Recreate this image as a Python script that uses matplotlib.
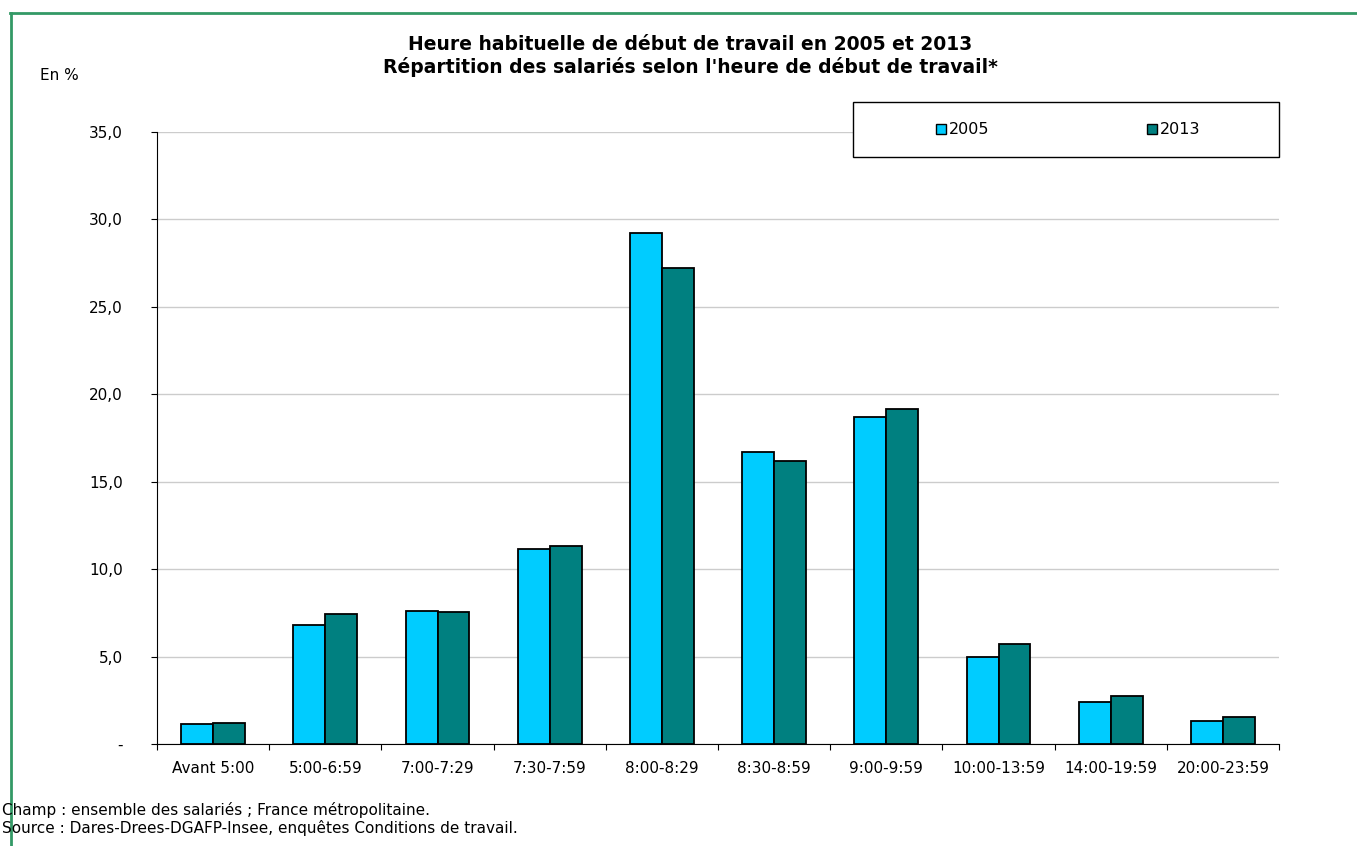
import matplotlib.pyplot as plt
import numpy as np
from matplotlib.lines import Line2D
from matplotlib.patches import Patch, Rectangle

categories = ['Avant 5:00', '5:00-6:59', '7:00-7:29', '7:30-7:59', '8:00-8:29',
              '8:30-8:59', '9:00-9:59', '10:00-13:59', '14:00-19:59', '20:00-23:59']
v2005 = [1.15, 6.8, 7.6, 11.15, 29.25, 16.7, 18.7, 5.0, 2.4, 1.3]
v2013 = [1.2, 7.45, 7.55, 11.35, 27.25, 16.2, 19.15, 5.7, 2.75, 1.55]
yticks = [0, 5, 10, 15, 20, 25, 30, 35]
ytick_labels = ['-', '5,0', '10,0', '15,0', '20,0', '25,0', '30,0', '35,0']

c2005 = '#00ccff'
c2013 = '#008080'

fig = plt.figure(figsize=(13.57, 8.46), dpi=100)
ax = fig.add_axes([157/1357, 1-744/846, (1279-157)/1357, (744-132)/846])

x = np.arange(len(categories))
w = 0.285
ax.bar(x - w/2, v2005, w, color=c2005, edgecolor='black', linewidth=1.3, zorder=3)
ax.bar(x + w/2, v2013, w, color=c2013, edgecolor='black', linewidth=1.3, zorder=3)

ax.set_xlim(-0.5, len(categories) - 0.5)
ax.set_ylim(0, 35)
ax.set_yticks(yticks)
ax.set_yticklabels(ytick_labels, fontsize=11)
ax.yaxis.grid(True, color='#cccccc', linewidth=1, zorder=0)

ax.set_xticks(np.arange(len(categories) + 1) - 0.5)
ax.set_xticklabels([])
ax.set_xticks(x, minor=True)
ax.set_xticklabels(categories, minor=True, fontsize=11)
ax.tick_params(axis='x', which='minor', length=0, pad=12)
ax.tick_params(axis='x', which='major', length=4.3, direction='out')
ax.tick_params(axis='y', length=4, direction='out', pad=20.5)

for s in ['top', 'right']:
    ax.spines[s].set_visible(False)

fig.text(690/1357, 1-44/846, "Heure habituelle de début de travail en 2005 et 2013",
         ha='center', va='center', fontsize=13.5, fontweight='bold')
fig.text(690/1357, 1-67/846, "Répartition des salariés selon l'heure de début de travail*",
         ha='center', va='center', fontsize=13.5, fontweight='bold')
fig.text(40/1357, 1-76/846, "En %", ha='left', va='center', fontsize=11)
fig.text(2/1357, 1-810/846, "Champ : ensemble des salariés ; France métropolitaine.",
         ha='left', va='center', fontsize=11)
fig.text(2/1357, 1-828/846, "Source : Dares-Drees-DGAFP-Insee, enquêtes Conditions de travail.",
         ha='left', va='center', fontsize=11)

# legend box
fig.add_artist(Rectangle((853/1357, 1-157/846), (1279-853)/1357, 55/846,
                         transform=fig.transFigure, facecolor='white',
                         edgecolor='black', linewidth=1, zorder=5))
for lab, col, px in [('2005', c2005, 936), ('2013', c2013, 1147)]:
    lg = fig.legend([Patch(facecolor=col, edgecolor='black')], [lab],
                    loc='center left', bbox_to_anchor=(px/1357, 1-130/846),
                    fontsize=11.5, handlelength=0.6, handleheight=0.6,
                    handletextpad=0.2, frameon=False, borderpad=0, borderaxespad=0)
    lg.set_zorder(6)

# green border (top and left)
fig.add_artist(Line2D([10/1357, 1], [1-13/846, 1-13/846], color='#339966', linewidth=2))
fig.add_artist(Line2D([11/1357, 11/1357], [1-13/846, 0], color='#339966', linewidth=2))

fig.savefig('out.png', dpi=100)
